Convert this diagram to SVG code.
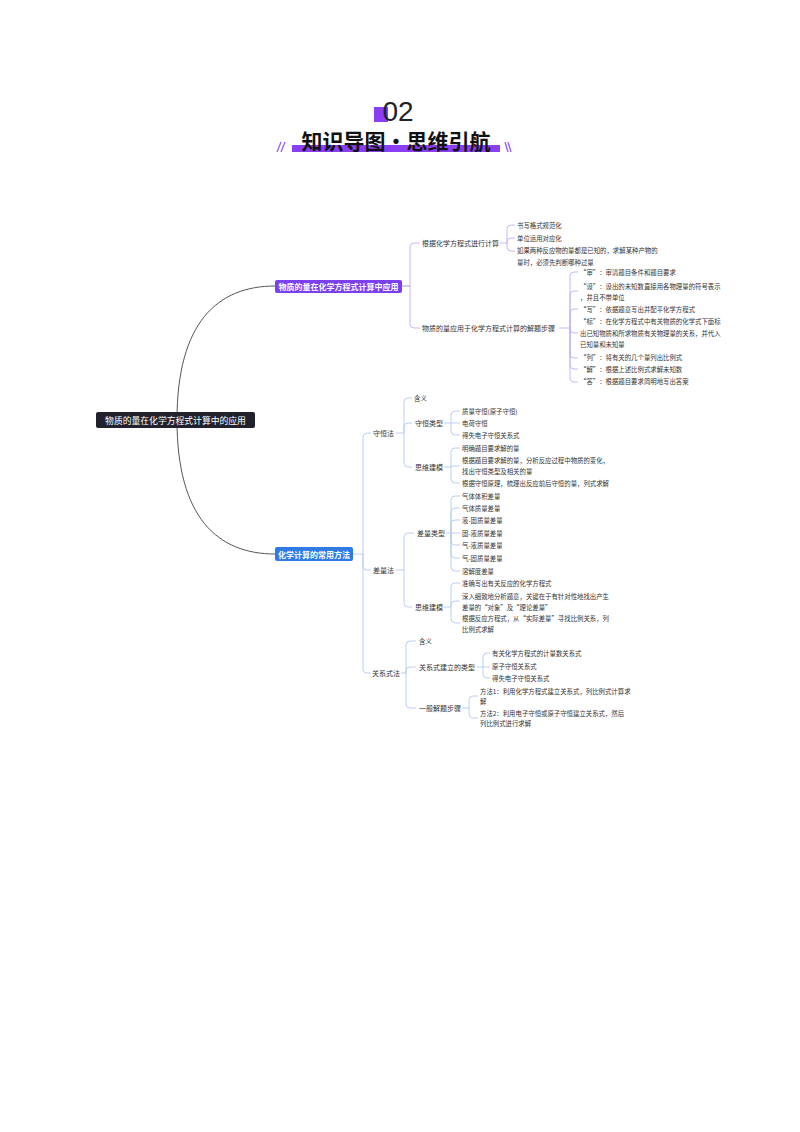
<svg xmlns="http://www.w3.org/2000/svg" width="800" height="1132" viewBox="0 0 800 1132">
<style>
text{font-family:"Noto Sans CJK SC","Noto Sans",sans-serif;fill:#333;dominant-baseline:central}
.c{font-size:7px}
.g{font-size:6.4px}
.pl{fill:none;stroke:#c3b0f0;stroke-width:0.9}
.bl{fill:none;stroke:#b3cbef;stroke-width:0.9}
.nd{fill:#fff;font-weight:700;font-size:8px}
</style>
<rect width="800" height="1132" fill="#fff"/>
<g id="header">
<rect x="374" y="107" width="14" height="15" fill="#8b3ff5"/>
<text x="398" y="111" text-anchor="middle" style="font-family:'Liberation Sans',sans-serif;font-size:28px;font-weight:300;fill:#222">02</text>
<rect x="292" y="145" width="208" height="7" fill="#8b3ff5"/>
<text x="396" y="140" text-anchor="middle" style="font-size:21px;font-weight:700;fill:#111">知识导图·思维引航</text>
<g stroke="#9a5cf5" stroke-width="1.3">
<line x1="277" y1="152" x2="281" y2="142"/><line x1="281" y1="152" x2="285" y2="142"/>
<line x1="505" y1="142" x2="508" y2="152"/><line x1="508" y1="142" x2="511" y2="152"/>
</g>
</g>
<g id="connectors">
<path d="M177,420 C177,322 218,286 275,286" fill="none" stroke="#555" stroke-width="1"/>
<path d="M177,420 C177,518 218,554 275,554" fill="none" stroke="#555" stroke-width="1"/>
<path class="pl" d="M402,286 H410 V247 Q410,243 414,243 H420 M402,286 H410 V324 Q410,328 414,328 H420"/>
<path class="pl" d="M500,243 H507 V229 Q507,225 511,225 H515 M507,243 V242 Q507,238 511,238 H515 M507,243 V247 Q507,251 511,251 H515"/>
<path class="pl" d="M559,328 H570 V276 Q570,272 574,272 H578 M570,328 V295 Q570,291 574,291 H578 M570,328 V313 Q570,309 574,309 H578 M570,328 V329 Q570,333 574,333 H578 M570,328 V354 Q570,358 574,358 H578 M570,328 V365 Q570,369 574,369 H578 M570,328 V378 Q570,382 574,382 H578"/>
<path class="bl" d="M353,554 H363 V437 Q363,433 367,433 H371 M363,554 V566 Q363,570 367,570 H371 M363,554 V669 Q363,673 367,673 H371"/>
<path class="bl" d="M396,433 H404 V402 Q404,398 408,398 H412 M404,433 V427 Q404,423 408,423 H412 M404,433 V463 Q404,467 408,467 H412"/>
<path class="bl" d="M444,423 H451 V415 Q451,411 455,411 H460 M451,423 H460 M451,423 V431 Q451,435 455,435 H460"/>
<path class="bl" d="M444,467 H451 V452 Q451,448 455,448 H460 M451,467 V466 H460 M451,467 V479 Q451,483 455,483 H460"/>
<path class="bl" d="M396,570 H404 V537 Q404,533 408,533 H414 M404,570 V603 Q404,607 408,607 H412"/>
<path class="bl" d="M446,533 H451 V500 Q451,496 455,496 H460 M451,533 V512 Q451,508 455,508 H460 M451,533 V524 Q451,520 455,520 H460 M451,533 H460 M451,533 V541 Q451,545 455,545 H460 M451,533 V554 Q451,558 455,558 H460 M451,533 V567 Q451,571 455,571 H460"/>
<path class="bl" d="M444,607 H451 V587 Q451,583 455,583 H460 M451,607 V605 Q451,601 455,601 H460 M451,607 V619 Q451,623 455,623 H460"/>
<path class="bl" d="M401,673 H406 V645 Q406,641 410,641 H416 M406,673 V671 Q406,667 410,667 H416 M406,673 V704 Q406,708 410,708 H416"/>
<path class="bl" d="M477,667 H483 V657 Q483,653 487,653 H490 M483,667 H490 M483,667 V674 Q483,678 487,678 H490"/>
<path class="bl" d="M462,708 H469 V700 Q469,696 473,696 H478 M469,708 V714 Q469,718 473,718 H478"/>
</g>
<g id="root">
<rect x="96" y="412" width="159" height="16" rx="2" fill="#22222e"/>
<text x="175.5" y="420" text-anchor="middle" style="fill:#fff;font-size:8.8px">物质的量在化学方程式计算中的应用</text>
</g>
<g id="b1">
<rect x="275" y="280" width="127" height="13" rx="2" fill="#7b3ff0"/>
<text class="nd" x="338.5" y="286.5" text-anchor="middle">物质的量在化学方程式计算中应用</text>
</g>
<g id="b1c1"><text class="c" x="422" y="243">根据化学方程式进行计算</text></g>
<g id="b1c1g1"><text class="g" x="517" y="225">书写格式规范化</text></g>
<g id="b1c1g2"><text class="g" x="517" y="238">单位运用对应化</text></g>
<g id="b1c1g3"><text class="g" x="517" y="250">如果两种反应物的量都是已知的，求解某种产物的</text><text class="g" x="517" y="262">量时，必须先判断哪种过量</text></g>
<g id="b1c2"><text class="c" x="422" y="328">物质的量应用于化学方程式计算的解题步骤</text></g>
<g id="b1c2g1"><text class="g" x="580" y="272">“审”：审清题目条件和题目要求</text></g>
<g id="b1c2g2"><text class="g" x="580" y="286">“设”：设出的未知数直接用各物理量的符号表示</text><text class="g" x="580" y="297">，并且不带单位</text></g>
<g id="b1c2g3"><text class="g" x="580" y="309">“写”：依据题意写出并配平化学方程式</text></g>
<g id="b1c2g4"><text class="g" x="580" y="321">“标”：在化学方程式中有关物质的化学式下面标</text><text class="g" x="580" y="333">出已知物质和所求物质有关物理量的关系，并代入</text><text class="g" x="580" y="344">已知量和未知量</text></g>
<g id="b1c2g5"><text class="g" x="580" y="357">“列”：将有关的几个量列出比例式</text></g>
<g id="b1c2g6"><text class="g" x="580" y="369">“解”：根据上述比例式求解未知数</text></g>
<g id="b1c2g7"><text class="g" x="580" y="381">“答”：根据题目要求简明地写出答案</text></g>
<g id="b2">
<rect x="275" y="547" width="78" height="14" rx="2" fill="#2f7be6"/>
<text class="nd" x="314" y="554" text-anchor="middle">化学计算的常用方法</text>
</g>
<g id="sh"><text class="c" x="373" y="433">守恒法</text></g>
<g id="sh1"><text class="g" x="414" y="398">含义</text></g>
<g id="sh2"><text class="c" x="415" y="423">守恒类型</text></g>
<g id="sh2a"><text class="g" x="462" y="411">质量守恒(原子守恒)</text></g>
<g id="sh2b"><text class="g" x="462" y="423">电荷守恒</text></g>
<g id="sh2c"><text class="g" x="462" y="435">得失电子守恒关系式</text></g>
<g id="sh3"><text class="c" x="415" y="467">思维建模</text></g>
<g id="sh3a"><text class="g" x="462" y="448">明确题目要求解的量</text></g>
<g id="sh3b"><text class="g" x="462" y="460">根据题目要求解的量，分析反应过程中物质的变化，</text><text class="g" x="462" y="471">找出守恒类型及相关的量</text></g>
<g id="sh3c"><text class="g" x="462" y="483">根据守恒原理，梳理出反应前后守恒的量，列式求解</text></g>
<g id="cl"><text class="c" x="373" y="570">差量法</text></g>
<g id="cl1"><text class="c" x="417" y="533">差量类型</text></g>
<g id="cl1a"><text class="g" x="462" y="496">气体体积差量</text></g>
<g id="cl1b"><text class="g" x="462" y="508">气体质量差量</text></g>
<g id="cl1c"><text class="g" x="462" y="520">液-固质量差量</text></g>
<g id="cl1d"><text class="g" x="462" y="533">固-液质量差量</text></g>
<g id="cl1e"><text class="g" x="462" y="545">气-液质量差量</text></g>
<g id="cl1f"><text class="g" x="462" y="558">气-固质量差量</text></g>
<g id="cl1g"><text class="g" x="462" y="571">溶解度差量</text></g>
<g id="cl2"><text class="c" x="415" y="607">思维建模</text></g>
<g id="cl2a"><text class="g" x="462" y="583">准确写出有关反应的化学方程式</text></g>
<g id="cl2b"><text class="g" x="462" y="596">深入细致地分析题意，关键在于有针对性地找出产生</text><text class="g" x="462" y="607">差量的“对象”及“理论差量”</text></g>
<g id="cl2c"><text class="g" x="462" y="618">根据反应方程式，从“实际差量”寻找比例关系，列</text><text class="g" x="462" y="629">比例式求解</text></g>
<g id="gx"><text class="c" x="372" y="673">关系式法</text></g>
<g id="gx1"><text class="g" x="419" y="641">含义</text></g>
<g id="gx2"><text class="c" x="419" y="667">关系式建立的类型</text></g>
<g id="gx2a"><text class="g" x="492" y="653">有关化学方程式的计量数关系式</text></g>
<g id="gx2b"><text class="g" x="492" y="666">原子守恒关系式</text></g>
<g id="gx2c"><text class="g" x="492" y="678">得失电子守恒关系式</text></g>
<g id="gx3"><text class="c" x="419" y="708">一般解题步骤</text></g>
<g id="gx3a"><text class="g" x="480" y="691">方法1：利用化学方程式建立关系式，列比例式计算求</text><text class="g" x="480" y="701">解</text></g>
<g id="gx3b"><text class="g" x="480" y="713">方法2：利用电子守恒或原子守恒建立关系式，然后</text><text class="g" x="480" y="723">列比例式进行求解</text></g>
</svg>
